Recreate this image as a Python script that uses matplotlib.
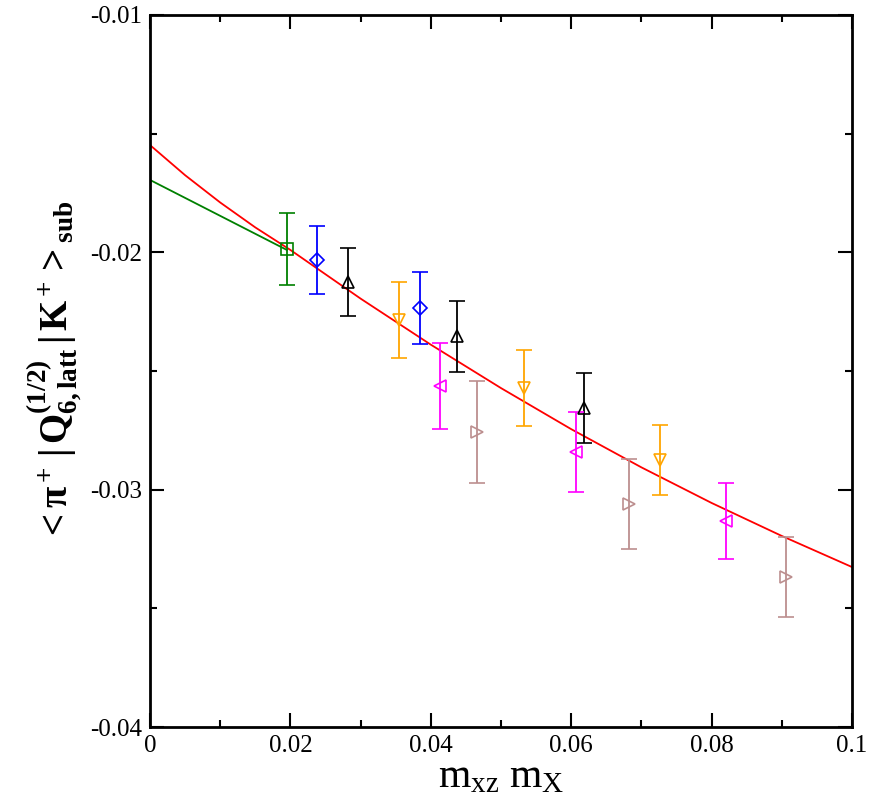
import matplotlib
matplotlib.use("Agg")
import matplotlib.pyplot as plt
from matplotlib.ticker import MultipleLocator

plt.rcParams['font.family'] = ['Liberation Serif', 'DejaVu Serif']
plt.rcParams['mathtext.fontset'] = 'custom'
plt.rcParams['mathtext.rm'] = 'Liberation Serif'
plt.rcParams['mathtext.it'] = 'Liberation Serif:italic'
plt.rcParams['mathtext.bf'] = 'Liberation Serif:bold'

# data: (x, y, err)
sq_x = [0.0195]; sq_y = [-0.01986]; sq_e = [0.00152]
di_x = [0.0238, 0.0384]; di_y = [-0.02032, -0.02235]; di_e = [0.00143, 0.00152]
up_x = [0.0282, 0.0438, 0.0618]; up_y = [-0.02125, -0.02353, -0.02656]; up_e = [0.00145, 0.0015, 0.00146]
dn_x = [0.0355, 0.0533, 0.0727]; dn_y = [-0.02285, -0.02572, -0.02875]; dn_e = [0.0016, 0.0016, 0.00147]
lf_x = [0.0413, 0.0607, 0.0820]; lf_y = [-0.02563, -0.02841, -0.03132]; lf_e = [0.0018, 0.0017, 0.0016]
rt_x = [0.0466, 0.0683, 0.0906]; rt_y = [-0.02757, -0.0306, -0.03368]; rt_e = [0.00213, 0.0019, 0.0017]

red_x = [0.0, 0.005, 0.01, 0.015, 0.02, 0.03, 0.04, 0.05, 0.06, 0.07, 0.08, 0.09, 0.1]
red_y = [-0.01548, -0.01675, -0.01790, -0.01895, -0.0199, -0.02195, -0.02389, -0.02572, -0.02745, -0.02906, -0.03056, -0.03195, -0.03326]
grn_x = [0.0, 0.0195]
grn_y = [-0.01695, -0.0199]

fig = plt.figure(figsize=(8.72, 8.10), dpi=100)
ax = fig.add_axes([150/872, 1-727/810, 702/872, 712/810])

ax.plot(grn_x, grn_y, color='green', lw=1.3)
ax.plot(red_x, red_y, color='red', lw=1.3)

sets = [(sq_x, sq_y, sq_e, 's', 'green'), (di_x, di_y, di_e, 'D', 'blue'),
        (up_x, up_y, up_e, '^', 'black'), (dn_x, dn_y, dn_e, 'v', 'orange'),
        (lf_x, lf_y, lf_e, '<', 'magenta'), (rt_x, rt_y, rt_e, '>', 'rosybrown')]
for x, y, e, m, c in sets:
    ax.errorbar(x, y, yerr=e, fmt=m, mfc='none', mec=c, ecolor=c, ms=9 if m != 'D' else 7,
                mew=1.2, elinewidth=1.3, capsize=6, capthick=1.3)

ax.set_xlim(0, 0.1)
ax.set_ylim(-0.04, -0.01)
ax.xaxis.set_minor_locator(MultipleLocator(0.01))
ax.yaxis.set_minor_locator(MultipleLocator(0.005))
ax.set_xticks([0, 0.02, 0.04, 0.06, 0.08, 0.1])
ax.set_xticklabels(['0', '0.02', '0.04', '0.06', '0.08', '0.1'])
ax.set_yticks([-0.04, -0.03, -0.02, -0.01])
ax.set_yticklabels(['-0.04', '-0.03', '-0.02', '-0.01'])
ax.tick_params(which='both', direction='in', top=True, right=True, labelsize=18, width=1.5)
ax.tick_params(which='major', length=10, pad=6)
ax.tick_params(which='minor', length=5)
for s in ax.spines.values():
    s.set_linewidth(2)

ax.set_xlabel(r'$\mathrm{m_{xz}\ m_X}$', fontsize=30, labelpad=0)
ax.set_ylabel(r'$\mathbf{<\pi^+\,|\,Q^{(1/2)}_{6,latt}\,|\,K^+>_{sub}}$', fontsize=28, labelpad=4)

fig.savefig('out.png', dpi=100)
